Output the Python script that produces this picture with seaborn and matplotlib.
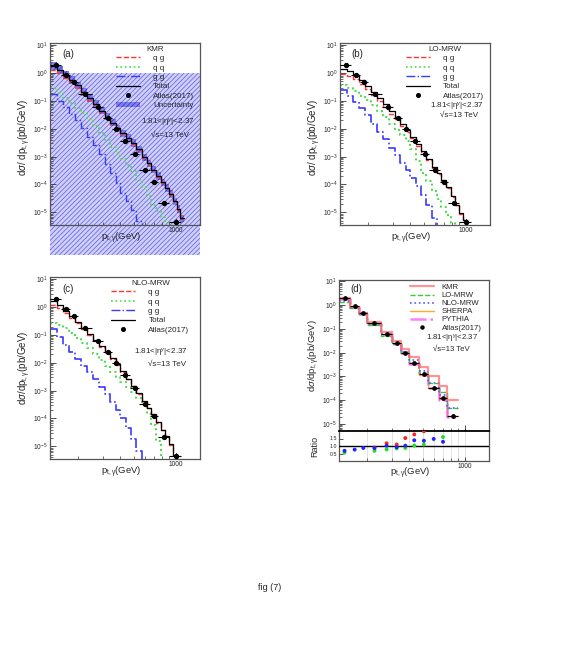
import numpy as np
import pandas as pd
import seaborn as sns
import matplotlib.pyplot as plt
from matplotlib.lines import Line2D
from matplotlib.patches import Patch, Rectangle
from matplotlib.ticker import (LogLocator, NullFormatter, FixedLocator, FixedFormatter,
                               LogFormatterSciNotation)

sns.set_style("ticks")
plt.rcParams['font.family'] = ['Liberation Sans', 'DejaVu Sans']
plt.rcParams['mathtext.fontset'] = 'custom'
plt.rcParams['mathtext.rm'] = 'Liberation Sans'
plt.rcParams['mathtext.it'] = 'Liberation Sans:italic'
plt.rcParams['mathtext.sf'] = 'Liberation Sans'
plt.rcParams['hatch.linewidth'] = 0.5

# ATLAS (2017) data, 1.81<|eta|<2.37
atlas_lo = [125, 150, 175, 200, 250, 300, 350, 400, 470, 550, 650, 750, 900]
atlas_hi = [150, 175, 200, 250, 300, 350, 400, 470, 550, 650, 750, 900, 1100]
atlas_pt = [137, 162, 187, 225, 275, 325, 375, 435, 510, 600, 700, 825, 1000]
atlas_xs = [2.0, 0.88, 0.47, 0.176, 0.062, 0.025, 0.0098, 0.0035, 0.00122, 3.4e-4, 1.2e-4, 2.2e-5, 4.4e-6]
atlas_err = [0.15, 0.06, 0.03, 0.012, 0.004, 0.0017, 0.0007, 0.00025, 0.0001, 3e-5, 1.4e-5, 4e-6, 1.5e-6]

# fine binned predictions, panels (a)-(c)
fine_edges = [125, 140, 155, 170, 190, 210, 230, 255, 280, 310, 340, 370, 400, 440,
              480, 520, 570, 620, 670, 720, 780, 840, 900, 960, 1020, 1080, 1150]

kmr_tot = [1.8, 1.3, 0.85, 0.56, 0.36, 0.21, 0.128, 0.077, 0.045, 0.0275, 0.0165, 0.0105, 0.0068,
           0.0048, 0.0031, 0.0018, 9.5e-4, 5.8e-4, 3.4e-4, 2.0e-4, 1.2e-4, 7.5e-5, 4.5e-5, 2.5e-5, 1.3e-5, 6e-6]
kmr_qg = [1.3, 1.0, 0.68, 0.46, 0.3, 0.18, 0.112, 0.068, 0.04, 0.025, 0.015, 0.0097, 0.0063,
          0.0045, 0.0029, 0.0017, 9e-4, 5.5e-4, 3.2e-4, 1.9e-4, 1.15e-4, 7.2e-5, 4.3e-5, 2.4e-5, 1.25e-5, 5.8e-6]
kmr_qq = [0.3, 0.2, 0.13, 0.085, 0.055, 0.036, 0.022, 0.0125, 0.0068, 0.0038, 0.0022, 0.0014, 8.5e-4,
          5e-4, 3e-4, 1.4e-4, 8e-5, 4e-5, 1.8e-5, 1.1e-5, 7e-6, 4e-6, 2e-6]
kmr_gg = [0.18, 0.1, 0.06, 0.034, 0.02, 0.011, 0.005, 0.0026, 0.0012, 5.5e-4, 2.5e-4, 1.1e-4, 5e-5,
          2.5e-5, 1.2e-5, 5e-6, 2e-6]
kmr_unc = 0.35

lo_tot = [1.45, 1.2, 0.85, 0.56, 0.35, 0.21, 0.125, 0.075, 0.043, 0.026, 0.015, 0.0092, 0.0052,
          0.0028, 0.0016, 8.5e-4, 4.3e-4, 2.5e-4, 1.45e-4, 8e-5, 3.8e-5, 1.9e-5, 9.5e-6, 5.5e-6, 3e-6]
lo_qg = [0.93, 0.8, 0.6, 0.41, 0.26, 0.16, 0.098, 0.06, 0.035, 0.0215, 0.0127, 0.0079, 0.0046,
         0.0025, 0.00145, 7.8e-4, 4e-4, 2.35e-4, 1.38e-4, 7.6e-5, 3.6e-5, 1.8e-5, 9e-6, 5.2e-6, 2.8e-6]
lo_qq = [0.38, 0.29, 0.22, 0.15, 0.105, 0.07, 0.045, 0.026, 0.015, 0.009, 0.0058, 0.0036, 0.0018,
         7e-4, 2.6e-4, 1.3e-4, 6e-5, 3e-5, 1.5e-5, 8e-6, 4e-6, 2e-6]
lo_gg = [0.24, 0.145, 0.09, 0.054, 0.03, 0.0145, 0.0078, 0.0042, 0.0021, 0.0011, 6e-4, 3.3e-4, 1.7e-4,
         8.5e-5, 4.2e-5, 1.9e-5, 6e-6, 2.5e-6]

nlo_tot = [1.6, 1.15, 0.72, 0.47, 0.3, 0.18, 0.108, 0.066, 0.039, 0.024, 0.0145, 0.0088, 0.005,
           0.0027, 0.0015, 8e-4, 4.2e-4, 2.4e-4, 1.4e-4, 7.2e-5, 4e-5, 2.3e-5, 1.2e-5, 5e-6, 2e-6]
nlo_qg = [1.2, 0.95, 0.62, 0.41, 0.265, 0.16, 0.097, 0.06, 0.0355, 0.022, 0.0134, 0.0082, 0.0047,
          0.0026, 0.00142, 7.6e-4, 4e-4, 2.3e-4, 1.35e-4, 7e-5, 3.9e-5, 2.25e-5, 1.15e-5, 4.8e-6, 1.9e-6]
nlo_qq = [0.27, 0.22, 0.17, 0.12, 0.08, 0.052, 0.033, 0.021, 0.0125, 0.0078, 0.0048, 0.0031, 0.002,
          0.0014, 9e-4, 5.5e-4, 3e-4, 1.5e-4, 6e-5, 1.5e-5, 3e-6]
nlo_gg = [0.16, 0.085, 0.045, 0.024, 0.014, 0.0078, 0.0045, 0.0027, 0.0014, 7.5e-4, 3.8e-4, 2e-4, 1e-4,
          4.5e-5, 1.8e-5, 7e-6, 2.5e-6]

# panel (d), ATLAS binning
comp_edges = [125, 150, 175, 200, 250, 300, 350, 400, 470, 550, 650, 750, 900]
d_kmr = [2.0, 0.83, 0.47, 0.19, 0.073, 0.032, 0.0145, 0.0065, 0.0026, 0.00105, 4.1e-4, 1.02e-4]
d_lo = [1.35, 0.76, 0.44, 0.148, 0.048, 0.023, 0.0095, 0.0038, 0.0014, 5.1e-4, 2.1e-4, 4.6e-5]
d_nlo = [1.45, 0.78, 0.45, 0.165, 0.063, 0.024, 0.0105, 0.0051, 0.0017, 5.1e-4, 1.6e-4, 4.6e-5]
d_sherpa = [1.9, 0.85, 0.45, 0.17, 0.06, 0.025, 0.0097, 0.0035, 0.0012, 3.4e-4, 1.15e-4, 2.1e-5]
d_pythia = [1.75, 0.8, 0.42, 0.165, 0.058, 0.024, 0.0093, 0.0034, 0.00118, 3.3e-4, 1.0e-4, 2.0e-5]

ratio_pt = [137, 162, 187, 225, 275, 325, 375, 435, 510, 600, 700]
ratio_kmr = [np.nan, np.nan, np.nan, 0.9, 1.18, 1.1, 1.53, 1.77, 1.98, np.nan, np.nan]
ratio_lo = [0.56, np.nan, np.nan, 0.68, 0.77, 0.84, 0.87, 1.03, 1.1, np.nan, 1.6]
ratio_nlo = [0.68, 0.76, 0.87, 0.86, 1.02, 0.92, 1.02, 1.38, 1.35, 1.47, 1.28]

y_decades = [1e-5, 1e-4, 1e-3, 1e-2, 1e-1, 1, 10]

eta_txt = r'1.81<|η$^{\gamma}$|<2.37'
rs_txt = '√s=13 TeV'
xlab = r'p$_{\mathregular{t,\gamma}}$(GeV)'
FRAME = '#555555'
FS = 5.8
HATCH_FG = '#5a5ae8'
HATCH_BG = '#cfcff8'


def step(ax, edges, vals, **kw):
    x = edges[:len(vals) + 1]
    y = list(vals) + [vals[-1]]
    sns.lineplot(x=x, y=y, drawstyle='steps-post', estimator=None, sort=False,
                 legend=False, ax=ax, **kw)


def style_axis(ax, ylim):
    ax.set_xscale('log')
    ax.set_yscale('log')
    ax.set_xlim(125, 1500)
    ax.set_ylim(*ylim)
    ax.xaxis.set_major_locator(FixedLocator([1000]))
    ax.xaxis.set_major_formatter(FixedFormatter(['1000']))
    ax.xaxis.set_minor_locator(FixedLocator([200, 300, 400, 500, 600, 700, 800, 900]))
    ax.xaxis.set_minor_formatter(NullFormatter())
    ax.yaxis.set_major_locator(FixedLocator(y_decades))
    ax.yaxis.set_major_formatter(LogFormatterSciNotation())
    ax.yaxis.set_minor_locator(LogLocator(base=10, subs=np.arange(2, 10), numticks=20))
    ax.yaxis.set_minor_formatter(NullFormatter())
    ax.tick_params(which='both', direction='in', labelsize=4.8, pad=1.5, color='#333333')
    ax.tick_params(which='major', length=4, width=0.6)
    ax.tick_params(which='minor', length=2, width=0.5)
    for s in ax.spines.values():
        s.set_color(FRAME)
        s.set_linewidth(0.9)


def data_points(ax, ms=2.8):
    xerr = [np.array(atlas_pt) - np.array(atlas_lo), np.array(atlas_hi) - np.array(atlas_pt)]
    ax.errorbar(atlas_pt, atlas_xs, xerr=xerr, yerr=atlas_err, fmt='o', color='black',
                ms=ms, elinewidth=0.8, capsize=0, zorder=6)


def comp_panel(ax, tot, qg, qq, gg, lw_c=1.0):
    step(ax, fine_edges, gg, color='#3a3aff', linestyle='-.', linewidth=lw_c)
    step(ax, fine_edges, qq, color='#44dd44', linestyle=':', linewidth=lw_c + 0.2)
    step(ax, fine_edges, qg, color='#ff3333', linestyle='--', linewidth=1.0)
    step(ax, fine_edges, tot, color='black', linewidth=0.9)
    data_points(ax)
    handles = [Line2D([], [], color='#ff3333', ls='--', lw=1.0),
               Line2D([], [], color='#44dd44', ls=':', lw=1.2),
               Line2D([], [], color='#3a3aff', ls='-.', lw=1.0),
               Line2D([], [], color='black', lw=0.9),
               Line2D([], [], color='black', marker='o', ms=2.6, ls='none')]
    labels = ['q g', 'q q', 'g g', 'Total', 'Atlas(2017)']
    return handles, labels


fig = plt.figure(figsize=(5.7, 6.6), dpi=100)

W = 150 / 570
H = 182 / 660
ax_a = fig.add_axes([50 / 570, 1 - 225 / 660, W, H])
ax_b = fig.add_axes([340 / 570, 1 - 225 / 660, W, H])
ax_c = fig.add_axes([50 / 570, 1 - 459 / 660, W, H])
ax_d = fig.add_axes([339 / 570, 1 - 431 / 660, W, 151 / 660])
ax_r = fig.add_axes([339 / 570, 1 - 461 / 660, W, 30 / 660], sharex=ax_d)

YL = (3.5e-6, 12)

# (a) KMR
ax = ax_a
ax.add_patch(Rectangle((0, -0.165), 1, 1.0, transform=ax.transAxes, clip_on=False,
                       facecolor=HATCH_BG, edgecolor=HATCH_FG, hatch='///////', lw=0, zorder=0))
x_b = fine_edges[:len(kmr_tot) + 1]
lo_b = [v / (1 + kmr_unc) for v in kmr_tot] + [kmr_tot[-1] / (1 + kmr_unc)]
hi_b = [v * (1 + kmr_unc) for v in kmr_tot] + [kmr_tot[-1] * (1 + kmr_unc)]
ax.fill_between(x_b, lo_b, hi_b, step='post', facecolor='#8080f0', edgecolor='#2a2ad0',
                hatch='///////', lw=0, zorder=1)
h, l = comp_panel(ax, kmr_tot, kmr_qg, kmr_qq, kmr_gg)
h.append(Patch(facecolor='#8080f0', edgecolor='#2a2ad0', hatch='///////', lw=0))
l.append('Uncertainty')
style_axis(ax, YL)

# (b) LO-MRW
comp_h_b, comp_l_b = comp_panel(ax_b, lo_tot, lo_qg, lo_qq, lo_gg, lw_c=1.2)
style_axis(ax_b, YL)

# (c) NLO-MRW
comp_h_c, comp_l_c = comp_panel(ax_c, nlo_tot, nlo_qg, nlo_qq, nlo_gg, lw_c=1.2)
style_axis(ax_c, YL)

legend_kw = dict(frameon=False, fontsize=FS, title_fontsize=FS, handlelength=3.0,
                 handletextpad=1.6, labelspacing=0.22, borderpad=0, borderaxespad=0)
ax_a.legend(h, l, title='KMR', loc='upper right', bbox_to_anchor=(0.96, 0.985), **legend_kw)
ax_b.legend(comp_h_b, comp_l_b, title='LO-MRW', loc='upper right', bbox_to_anchor=(0.96, 0.985), **legend_kw)
ax_c.legend(comp_h_c, comp_l_c, title='NLO-MRW', loc='upper right', bbox_to_anchor=(0.93, 0.985), **legend_kw)

for ax, (x1, y1, x2, y2) in [(ax_a, (0.965, 0.56, 0.93, 0.495)),
                             (ax_b, (0.96, 0.647, 0.92, 0.60)),
                             (ax_c, (0.92, 0.582, 0.91, 0.522))]:
    ax.text(x1, y1, eta_txt, transform=ax.transAxes, ha='right', va='center', fontsize=FS)
    ax.text(x2, y2, rs_txt, transform=ax.transAxes, ha='right', va='center', fontsize=FS)

# (d) comparison
ax = ax_d
step(ax, comp_edges, d_sherpa, color='#ffaa33', linewidth=1.0)
step(ax, comp_edges, d_pythia, color='#ff44ff', linestyle='-.', linewidth=1.8, alpha=0.7)
step(ax, comp_edges, d_lo, color='#33cc33', linestyle='--', linewidth=1.0)
step(ax, comp_edges, d_nlo, color='#5a5aff', linestyle=':', linewidth=1.2)
step(ax, comp_edges, d_kmr, color='#ff7070', linewidth=1.6, alpha=0.75)
data_points(ax, ms=2.4)
style_axis(ax, (5e-6, 11.5))
ax.tick_params(axis='x', labelbottom=False)
hd = [Line2D([], [], color='#ff7070', lw=1.6, alpha=0.75),
      Line2D([], [], color='#33cc33', ls='--', lw=1.0),
      Line2D([], [], color='#5a5aff', ls=':', lw=1.2),
      Line2D([], [], color='#ffaa33', lw=1.0),
      Line2D([], [], color='#ff44ff', ls='-.', lw=1.8, alpha=0.7),
      Line2D([], [], color='black', marker='o', ms=2.2, ls='none')]
ld = ['KMR', 'LO-MRW', 'NLO-MRW', 'SHERPA', 'PYTHIA', 'Atlas(2017)']
ax.legend(hd, ld, loc='upper right', bbox_to_anchor=(0.95, 0.975), frameon=False, fontsize=5.6,
          handlelength=3.0, handletextpad=1.0, labelspacing=0.08, borderpad=0, borderaxespad=0)
ax.text(0.927, 0.607, eta_txt, transform=ax.transAxes, ha='right', va='center', fontsize=5.6)
ax.text(0.873, 0.543, rs_txt, transform=ax.transAxes, ha='right', va='center', fontsize=5.6)

# ratio panel
ax = ax_r
rdf = pd.DataFrame({'pt': ratio_pt * 3,
                    'ratio': ratio_kmr + ratio_lo + ratio_nlo,
                    'model': ['KMR'] * 11 + ['LO-MRW'] * 11 + ['NLO-MRW'] * 11}).dropna()
sns.scatterplot(data=rdf, x='pt', y='ratio', hue='model',
                palette={'KMR': '#ff2222', 'LO-MRW': '#22dd22', 'NLO-MRW': '#2222ff'},
                s=8, linewidth=0, legend=False, ax=ax, zorder=5)
ax.axhline(1.0, color='black', lw=1.0, zorder=3)
ax.set_ylim(0, 2)
ax.set_yticks([0.5, 1.0, 1.5])
ax.set_yticklabels(['0.5', '1.0', '1.5'])
ax.xaxis.set_major_locator(FixedLocator([1000]))
ax.xaxis.set_major_formatter(FixedFormatter(['1000']))
ax.xaxis.set_minor_locator(FixedLocator([200, 300, 400, 500, 600, 700, 800, 900]))
ax.xaxis.set_minor_formatter(NullFormatter())
ax.grid(which='both', axis='x', color='#dddddd', lw=0.6)
ax.tick_params(which='both', direction='in', labelsize=4.8, pad=1.5, color='#333333')
ax.tick_params(axis='y', labelsize=3.8, pad=1.2)
ax.tick_params(which='major', length=3, width=0.6)
ax.tick_params(which='minor', length=2, width=0.5)
for s in ax.spines.values():
    s.set_color(FRAME)
    s.set_linewidth(0.9)
ax.spines['top'].set_color('black')
ax.spines['top'].set_linewidth(1.3)
ax.set_ylabel('Ratio', fontsize=6.5)
ax.yaxis.set_label_coords(-0.13, 0.5)

# axis labels
for ax in (ax_a, ax_b, ax_c):
    ax.set_xlabel(xlab, fontsize=6.8)
    ax.xaxis.set_label_coords(0.475, -0.035)
    ax.set_ylabel(r'd$\sigma$/ dp$_{\mathregular{t,\gamma}}$(pb/GeV)', fontsize=7.0)
    ax.yaxis.set_label_coords(-0.115, 0.48)
ax_c.set_ylabel(r'd$\sigma$/dp$_{\mathregular{t,\gamma}}$(pb/GeV)', fontsize=7.0)
ax_d.set_ylabel(r'd$\sigma$/dp$_{\mathregular{t,\gamma}}$(pb/GeV)', fontsize=6.8)
ax_d.yaxis.set_label_coords(-0.115, 0.5)
ax_r.set_xlabel(xlab, fontsize=6.8)
ax_r.xaxis.set_label_coords(0.475, -0.17)

for ax, lab, (x, y) in [(ax_a, '(a)', (0.08, 0.94)), (ax_b, '(b)', (0.074, 0.94)),
                        (ax_c, '(c)', (0.08, 0.934)), (ax_d, '(d)', (0.073, 0.94))]:
    ax.text(x, y, lab, transform=ax.transAxes, ha='left', va='center', fontsize=7)

fig.text(270 / 570, 1 - 587 / 660, 'fig (7)', ha='center', va='center', fontsize=6.5)

fig.savefig('out.png', dpi=100)
